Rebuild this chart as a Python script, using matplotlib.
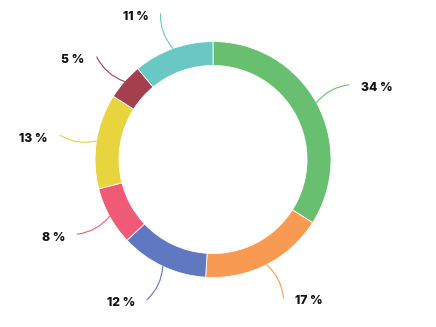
import numpy as np
import matplotlib
matplotlib.use("Agg")
import matplotlib.pyplot as plt

# share of each category, clockwise from 12 o'clock
shares = [34, 17, 12, 8, 13, 5, 11]
colors = ["#67bf6f", "#f89a52", "#5f78c0", "#ef5a77", "#e8d43f", "#a4404e", "#69c8c4"]
labels = [f"{s} %" for s in shares]

W, H = 436, 327
fig = plt.figure(figsize=(W / 100, H / 100), dpi=100)
ax = fig.add_axes([0, 0, 1, 1])

cx, cy = 213, H - 159.5
r_out = 118
ring = 24

wedges, _ = ax.pie(shares, colors=colors, startangle=90, counterclock=False,
                   center=(cx, cy), radius=r_out,
                   wedgeprops=dict(width=ring, edgecolor="white", linewidth=0.6),
                   frame=True)
ax.set_xlim(0, W)
ax.set_ylim(0, H)
ax.set_aspect("equal")
ax.axis("off")

r_tick = 155
for w, lab, col in zip(wedges, labels, colors):
    mid = np.deg2rad((w.theta1 + w.theta2) / 2)
    x0, y0 = cx + r_out * np.cos(mid), cy + r_out * np.sin(mid)
    x1, y1 = cx + r_tick * np.cos(mid), cy + r_tick * np.sin(mid)
    ax.annotate("", xy=(x1, y1), xytext=(x0, y0),
                arrowprops=dict(arrowstyle="-", color=col, lw=0.8,
                                shrinkA=0, shrinkB=0,
                                connectionstyle="arc3,rad=-0.2"))
    right = np.cos(mid) > 0
    ax.text(x1 + (12 if right else -12), y1 - 3.5, lab,
            ha="left" if right else "right", va="center",
            fontsize=8.8, fontweight=800, family="Inter", color="#111111")

fig.savefig("out.png", dpi=100)
